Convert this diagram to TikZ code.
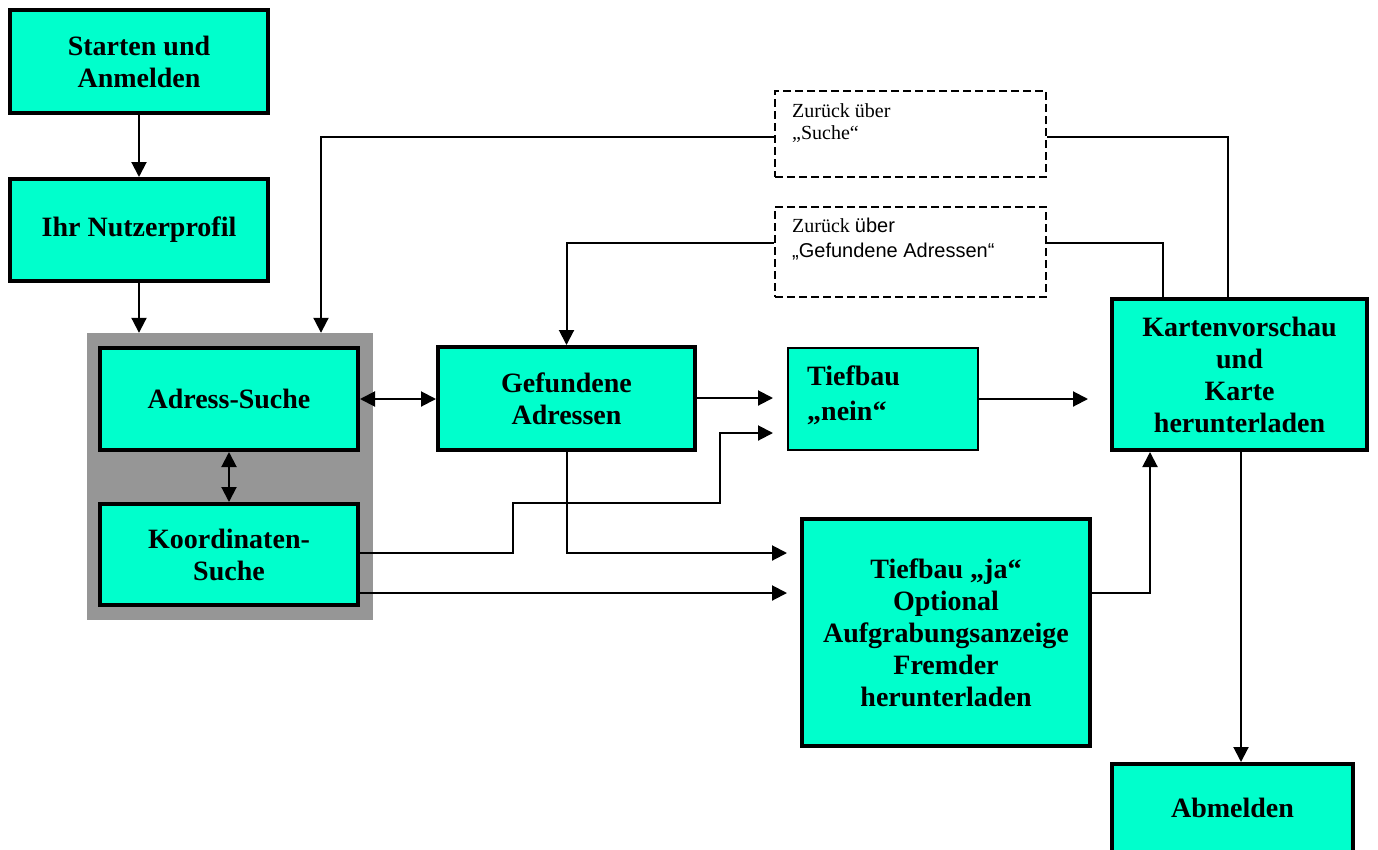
\documentclass[tikz,border=0pt]{standalone}
\usepackage{fontspec}
\setmainfont{Liberation Serif}
\newfontfamily\arialfont{Liberation Sans}
\usetikzlibrary{arrows.meta}
\definecolor{boxfill}{RGB}{0,255,204}
\definecolor{groupgrey}{RGB}{150,150,150}
\tikzset{
  stepbox/.style={draw=black, line width=4pt, fill=boxfill, align=center,
    font=\bfseries\fontsize{28}{32}\selectfont, inner sep=0pt},
  thinbox/.style={draw=black, line width=2pt, fill=boxfill, inner sep=0pt},
  boldtext/.style={font=\bfseries\fontsize{28}{32}\selectfont, anchor=base west, inner sep=0pt},
  dbox/.style={draw=black, line width=2pt, dash pattern=on 8pt off 4pt, inner sep=0pt},
  note/.style={font=\fontsize{20}{22}\selectfont, anchor=base west, inner sep=0pt},
  conn/.style={line width=2pt},
  arr/.style={conn, -{Triangle[length=15pt,width=15pt]}},
  darr/.style={conn, {Triangle[length=15pt,width=15pt]}-{Triangle[length=15pt,width=15pt]}},
}
\begin{document}
\begin{tikzpicture}[x=1pt,y=-1pt]
\useasboundingbox (0,0) rectangle (1378,849);
\clip (0,0) rectangle (1378,849);

% group background
\node[fill=groupgrey, minimum width=286pt, minimum height=287pt, inner sep=0pt] (grp) at (230,476.5) {};

% main boxes
\node[stepbox, minimum width=258pt, minimum height=103pt] (start) at (139,61.5) {Starten und\\Anmelden};
\node[stepbox, minimum width=258pt, minimum height=102pt] (profil) at (139,230) {Ihr Nutzerprofil};
\node[stepbox, minimum width=258pt, minimum height=102pt] (adress) at (229,399) {Adress-Suche};
\node[stepbox, minimum width=258pt, minimum height=101pt] (koord) at (229,554.5) {Koordinaten-\\Suche};
\node[stepbox, minimum width=257pt, minimum height=103pt] (gefunden) at (566.5,398.5) {Gefundene\\Adressen};
\node[thinbox, minimum width=190pt, minimum height=102pt] (nein) at (883,399) {};
\node[boldtext] (neinA) at (807,385) {Tiefbau};
\node[boldtext] (neinB) at (807,420) {„nein“};
\node[stepbox, minimum width=288pt, minimum height=227pt] (ja) at (946,632.5)
  {Tiefbau „ja“\\Optional\\Aufgrabungsanzeige\\Fremder\\herunterladen};
\node[stepbox, minimum width=255pt, minimum height=151pt] (karten) at (1239.5,374.5)
  {Kartenvorschau\\und\\Karte\\herunterladen};
\node[stepbox, minimum width=241pt, minimum height=88pt] (abmelden) at (1232.5,808) {Abmelden};

% dashed note boxes
\node[dbox, minimum width=271pt, minimum height=86pt] (d1) at (910.5,134) {};
\node[note] (d1a) at (792,117) {Zurück über};
\node[note] (d1b) at (792,139) {„Suche“};
\node[dbox, minimum width=271pt, minimum height=90pt] (d2) at (910.5,252) {};
\node[note] (d2a) at (792,232) {Zurück {\arialfont über}};
\node[note] (d2b) at (792,257) {\arialfont „Gefundene Adressen“};

% free arrow ends
\coordinate (neinInA) at (773,398);
\coordinate (neinInB) at (773,433);
\coordinate (jaInA) at (787,553);
\coordinate (jaInB) at (787,593);
\coordinate (kartenIn) at (1088,399);

% connectors
\draw[arr] (start) -- (profil);
\draw[arr] (profil.south) -- (profil.south |- grp.north);
\draw[darr] (adress) -- (koord);
\draw[darr] (adress.east) -- (adress.east -| gefunden.west);
\draw[arr] (gefunden.east |- neinInA) -- (neinInA);
\draw[arr] (koord.east |- jaInA) -| (513,503) -| (720,433) -- (neinInB);
\draw[arr] (gefunden.south) |- (jaInA);
\draw[arr] (koord.east |- jaInB) -- (jaInB);
\draw[arr] (nein.east) -- (kartenIn);
\draw[arr] (ja.east |- jaInB) -| ([xshift=-89.5pt]karten.south);
\draw[arr] ([xshift=1.5pt]karten.south) -- ([xshift=1.5pt]karten.south |- abmelden.north);
\draw[conn] ([xshift=-11.5pt]karten.north) |- ([yshift=-2.5pt]d1.east);
\draw[arr] ([yshift=-2.5pt]d1.west) -| ([xshift=91pt]grp.north);
\draw[conn] ([xshift=-76.5pt]karten.north) |- ([yshift=9pt]d2.east);
\draw[arr] ([yshift=9pt]d2.west) -| (gefunden.north);
\end{tikzpicture}
\end{document}
